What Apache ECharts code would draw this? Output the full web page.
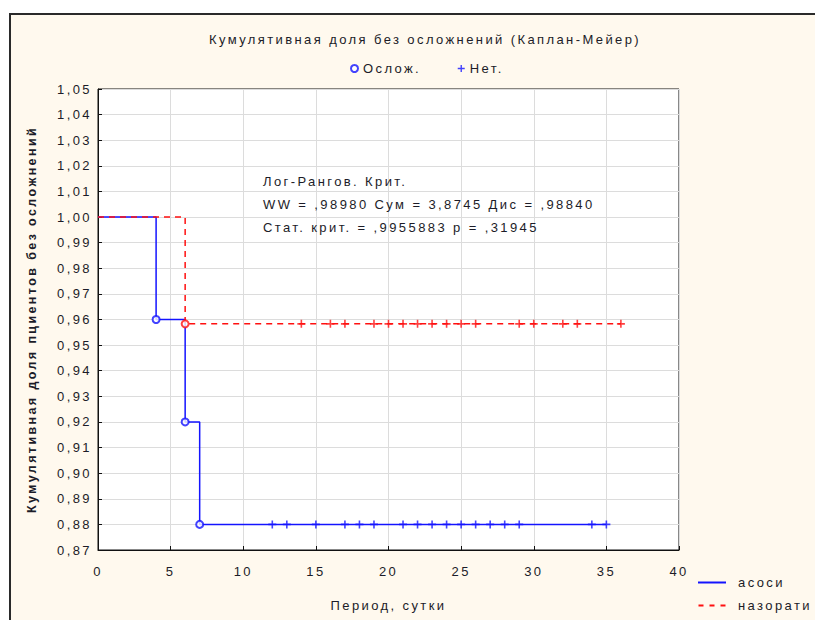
<!DOCTYPE html>
<html>
<head>
<meta charset="utf-8">
<script src="https://cdn.jsdelivr.net/npm/echarts@6/dist/echarts.min.js"></script>
<style>
html,body{margin:0;padding:0;background:#fff;width:815px;height:620px;overflow:hidden;}
#frame{position:absolute;left:9px;top:13px;width:806px;height:607px;background:#fff9ee;border-left:2px solid #2a2a2a;border-top:2px solid #2a2a2a;box-sizing:border-box;}
#chart{position:absolute;left:0;top:0;width:815px;height:620px;}
#chart svg text{letter-spacing:2.4px;}
</style>
</head>
<body>
<div id="frame"></div>
<div id="chart"></div>
<script>
// ---- data ----
var titleText = 'Кумулятивная доля без осложнений (Каплан-Мейер)';
var xName = 'Период, сутки';
var yName = 'Кумулятивная доля пциентов без осложнений';
var groupNames = ['асоси', 'назорати'];
var markNames = ['Ослож.', 'Нет.'];
// group 1 (асоси): step times and survival values
var aTimes = [0, 4, 6, 7, 35];
var aSurv  = [1.00, 0.96, 0.92, 0.88, 0.88];
var aEventTimes = [4, 6, 7];
var aEventSurv  = [0.96, 0.92, 0.88];
var aCensor = [12, 13, 15, 17, 18, 19, 21, 22, 23, 24, 25, 26, 27, 28, 29, 34, 35];
// group 2 (назорати)
var bTimes = [0, 6, 36];
var bSurv  = [1.00, 0.9583, 0.9583];
var bEventTimes = [6];
var bEventSurv  = [0.9583];
var bCensor = [14, 16, 17, 19, 20, 21, 22, 23, 24, 25, 26, 29, 30, 32, 33, 36];
var statLines = ['Лог-Рангов. Крит.', 'WW = ,98980 Сум = 3,8745 Дис = ,98840', 'Стат. крит. = ,9955883 p = ,31945'];

function pairs(xs, ys){ return xs.map(function(x,i){ return [x, ys[i]]; }); }
function censorPts(xs, y){ return xs.map(function(x){ return [x, y]; }); }

var BLUE = '#1414ff', RED = '#ff1010';
var TXT = '#1c1c28';
var plusPath = 'path://M0,4H10V6H0Z M4,0H6V10H4Z';
var solidIcon = 'path://M0,0H28V2H0Z';
var dashIcon = 'path://M0,0H5V2H0Z M11,0H16V2H11Z M22,0H27V2H22Z';
var font = 'Liberation Sans, Arial, sans-serif';

var chart = echarts.init(document.getElementById('chart'), null, {renderer:'svg'});
chart.setOption({
  backgroundColor: 'transparent',
  animation: false,
  textStyle: {fontFamily: font},
  title: {
    text: titleText, left: 420, textAlign: 'center', top: 28,
    textStyle: {fontSize: 13, fontWeight: 'normal', color: TXT, fontFamily: font}
  },
  legend: [{
    data: [{name: markNames[0], icon: 'emptyCircle'}, {name: markNames[1], icon: plusPath}],
    top: 57, left: 345, itemWidth: 7, itemHeight: 7, itemGap: 51,
    textStyle: {fontSize: 13, color: TXT, fontFamily: font}
  }, {
    data: [{name: groupNames[0], icon: solidIcon}, {name: groupNames[1], icon: dashIcon}],
    orient: 'vertical', left: 698, top: 576, padding: 0, itemWidth: 28, itemHeight: 2, itemGap: 10,
    textStyle: {fontSize: 13, color: TXT, fontFamily: font, padding: [0,0,0,7]}
  }],
  grid: {left: 98, top: 89, width: 581, height: 461, show: true, backgroundColor: '#fff', borderColor: '#111', borderWidth: 1},
  xAxis: {
    type: 'value', min: 0, max: 40, interval: 5,
    name: xName, nameLocation: 'middle', nameGap: 49,
    nameTextStyle: {fontSize: 13, color: TXT, fontFamily: font},
    axisLine: {show: true, lineStyle: {color: '#111', width: 1}},
    axisTick: {show: true, inside: true, length: 4, lineStyle: {color: '#111'}},
    axisLabel: {fontSize: 13, color: TXT, margin: 15, fontFamily: font},
    splitLine: {show: true, lineStyle: {color: '#dcdcdc', width: 1}}
  },
  yAxis: {
    type: 'value', min: 0.87, max: 1.05, interval: 0.01,
    name: yName, nameLocation: 'middle', nameGap: 60, nameRotate: 90,
    nameTextStyle: {fontSize: 12.5, fontWeight: 'bold', color: TXT, fontFamily: font},
    axisLine: {show: true, lineStyle: {color: '#111', width: 1}},
    axisTick: {show: true, inside: true, length: 4, lineStyle: {color: '#111'}},
    axisLabel: {fontSize: 13, color: TXT, margin: 6, fontFamily: font,
      formatter: function(v){ return v.toFixed(2).replace('.', ','); }},
    splitLine: {show: true, lineStyle: {color: '#dcdcdc', width: 1}}
  },
  graphic: statLines.map(function(t, i){
    return {type: 'text', left: 263, top: [175, 198, 221][i], z: 100,
      style: {text: t, fill: TXT, font: '13px ' + font}};
  }),
  series: [
    {name: groupNames[0], type: 'line', step: 'end', data: pairs(aTimes, aSurv), showSymbol: false, symbol: 'none',
      lineStyle: {color: BLUE, width: 1.5}, itemStyle: {color: BLUE}, z: 2},
    {name: groupNames[1], type: 'line', step: 'end', data: pairs(bTimes, bSurv), showSymbol: false, symbol: 'none',
      lineStyle: {color: RED, width: 1.5, type: [6, 5]}, itemStyle: {color: RED}, z: 3},
    {name: markNames[0], type: 'scatter', data: pairs(aEventTimes, aEventSurv), symbol: 'emptyCircle', symbolSize: 7,
      itemStyle: {color: BLUE, borderColor: BLUE, borderWidth: 1.5}, z: 5},
    {name: markNames[0], type: 'scatter', data: pairs(bEventTimes, bEventSurv), symbol: 'emptyCircle', symbolSize: 7,
      itemStyle: {color: RED, borderColor: RED, borderWidth: 1.5}, z: 4},
    {name: markNames[1], type: 'scatter', data: censorPts(aCensor, aSurv[aSurv.length-1]), symbol: plusPath, symbolSize: 8,
      itemStyle: {color: BLUE}, z: 5},
    {name: markNames[1], type: 'scatter', data: censorPts(bCensor, bSurv[bSurv.length-1]), symbol: plusPath, symbolSize: 8,
      itemStyle: {color: RED}, z: 4}
  ]
});
</script>
</body>
</html>
